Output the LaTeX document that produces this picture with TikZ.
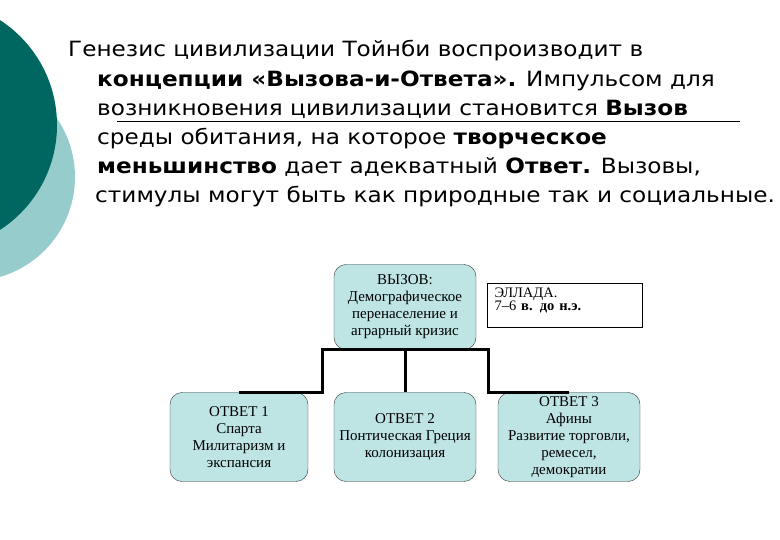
\documentclass[tikz,border=0pt]{standalone}
\usepackage{fontspec}
\setmainfont{Liberation Serif}
\newfontfamily\slidefont{DejaVu Sans}[FakeStretch=1.103]
\definecolor{tealdark}{RGB}{0,102,96}
\definecolor{teallight}{RGB}{150,204,204}
\definecolor{boxfill}{RGB}{190,228,228}
\begin{document}
\begin{tikzpicture}[x=1pt, y=-1pt,
          txt/.style={anchor=base west, inner sep=0pt, font=\slidefont\fontsize{21}{24}\selectfont},
          blk/.style={draw=black!80, fill=boxfill, rounded corners=12pt, align=center, inner sep=0pt,
                      minimum height=89pt, font=\fontsize{15}{17}\selectfont},
          tag/.style={draw, line width=1.2pt, fill=white, align=left, anchor=north west, inner xsep=7pt,
                      inner ysep=4pt, minimum width=155pt, text width=141pt, text depth=26pt,
                      font=\fontsize{14.5}{13}\selectfont},
          conn/.style={line width=3pt}]
        \useasboundingbox (0,0) rectangle (780,540);
        \clip (0,0) rectangle (780,540);
        \fill[teallight] (-29,177) circle (104);
        \fill[tealdark] (-68,125) circle (125);
        \node[txt] (l1) at (68,57)  {Генезис цивилизации Тойнби воспроизводит в};
        \node[txt] (l2) at (97,87)  {\textbf{концепции «Вызова-и-Ответа».} Импульсом для};
        \node[txt] (l3) at (97,116) {возникновения цивилизации становится \textbf{Вызов}};
        \node[txt] (l4) at (97,145) {среды обитания, на которое \textbf{творческое}};
        \node[txt] (l5) at (97,174) {\textbf{меньшинство} дает адекватный \textbf{Ответ.} Вызовы,};
        \node[txt] (l6) at (95,203) {стимулы могут быть как природные так и социальные.};
        \draw[line width=0.8pt] (117,121) -- (740,121);
        \node[blk, minimum width=142pt, minimum height=85pt] (vyzov) at (405,307)
             {ВЫЗОВ:\\Демографическое\\перенаселение и\\аграрный кризис};
        \node[tag] (ellada) at (487,283) {ЭЛЛАДА.\\7–6 \textbf{в. до н.э.}};
        \node[blk, minimum width=138pt] (otvet1) at (239,437) {ОТВЕТ 1\\Спарта\\Милитаризм и\\экспансия};
        \node[blk, minimum width=142pt] (otvet2) at (405,437) {ОТВЕТ 2\\Понтическая Греция\\колонизация};
        \node[blk, minimum width=142pt] (otvet3) at (569,437) {ОТВЕТ 3\\Афины\\Развитие торговли,\\ремесел,\\демократии};
        \coordinate (jl) at (322,350);
        \coordinate (jr) at (488,350);
        \draw[conn] (otvet1.north) -| (jl) -- (jr) |- (otvet3.north);
        \draw[conn] (vyzov.south) -- (otvet2.north);
      \end{tikzpicture}
\end{document}
